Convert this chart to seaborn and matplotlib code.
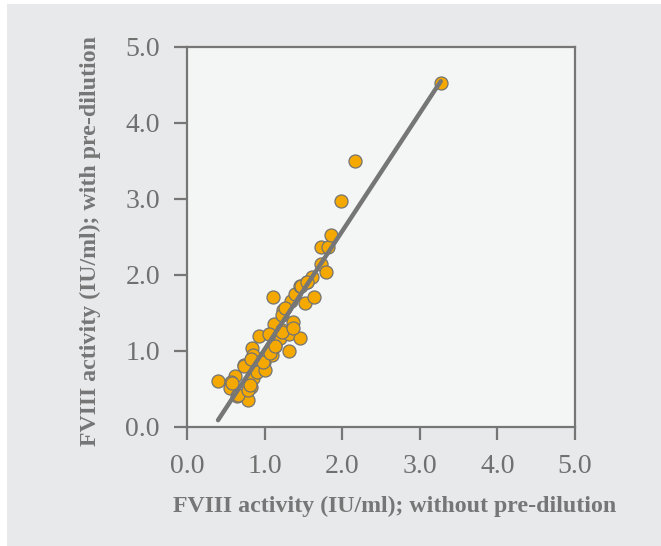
import matplotlib
matplotlib.use("Agg")
import matplotlib.pyplot as plt
import seaborn as sns
import pandas as pd
from matplotlib.patches import Rectangle

# Data (IU/ml)
without_pre = [0.40, 0.62, 0.57, 0.55, 0.65, 0.74, 0.78, 0.82, 0.84, 0.93,
               0.99, 0.99, 0.88, 0.85, 0.85, 1.09, 1.07, 1.12, 1.14, 1.11,
               1.20, 1.23, 1.24, 1.22, 1.31, 1.31, 1.36, 1.34, 1.39, 1.46,
               1.45, 1.52, 1.55, 1.61, 1.64, 1.73, 1.79, 1.73, 1.82, 1.86,
               1.99, 2.17, 3.27, 0.58, 0.66, 0.79, 0.81, 0.73, 0.83, 0.90,
               1.00, 0.98, 1.07, 1.13, 1.06, 1.22, 1.26, 1.36, 1.47, 1.54]
with_pre = [0.60, 0.67, 0.59, 0.51, 0.41, 0.82, 0.35, 0.53, 1.04, 1.20,
            0.85, 0.76, 0.72, 0.65, 0.95, 0.95, 1.22, 1.36, 1.06, 1.71,
            1.17, 1.27, 1.54, 1.47, 1.00, 1.22, 1.38, 1.66, 1.75, 1.17,
            1.85, 1.63, 1.91, 1.97, 1.71, 2.14, 2.04, 2.37, 2.37, 2.52,
            2.98, 3.50, 4.53, 0.58, 0.42, 0.49, 0.55, 0.80, 0.90, 0.73,
            0.75, 0.86, 0.97, 1.07, 1.23, 1.25, 1.56, 1.30, 1.86, 1.91]

x_ticks = [0, 1, 2, 3, 4, 5]
tick_labels = ["0.0", "1.0", "2.0", "3.0", "4.0", "5.0"]

df = pd.DataFrame({"without": without_pre, "with": with_pre})

sns.set_style("white")
plt.rcParams["font.family"] = ["Liberation Serif", "DejaVu Serif"]

fig = plt.figure(figsize=(6.61, 5.46), dpi=100)
fig.patch.set_facecolor("white")
fig.patches.append(Rectangle((7 / 661, 0), 1, 1 - 4 / 546, transform=fig.transFigure,
                             facecolor="#e8e9eb", edgecolor="none", zorder=-10))

ax = fig.add_axes([187 / 661, 119 / 546, 388 / 661, 380 / 546])
ax.set_facecolor("#f4f5f5")

sns.regplot(data=df, x="without", y="with", ax=ax, ci=None, truncate=True,
            scatter_kws=dict(s=88, color="#f5a900", edgecolor="#737373",
                             linewidths=0.9, alpha=1),
            line_kws=dict(color="#767676", lw=3.2))

ax.set_xlim(0, 5)
ax.set_ylim(0, 5)
ax.set_xticks(x_ticks)
ax.set_yticks(x_ticks)
ax.set_xticklabels(tick_labels)
ax.set_yticklabels(tick_labels)

grey = "#767676"
for sp in ax.spines.values():
    sp.set_color(grey)
    sp.set_linewidth(1.6)
    sp.set_visible(True)

ax.tick_params(axis="both", direction="out", length=9.5, width=1.6, color=grey,
               labelcolor="#707070", labelsize=20, pad=10)
ax.tick_params(axis="both", which="both", bottom=True, left=True)

ax.set_xlabel("FVIII activity (IU/ml); without pre-dilution", fontsize=17.2,
              fontweight="bold", color=grey)
ax.set_ylabel("FVIII activity (IU/ml); with pre-dilution", fontsize=17.2,
              fontweight="bold", color=grey)
ax.xaxis.set_label_coords(0.534, -0.21)
ax.yaxis.set_label_coords(-0.25, 0.489)
ax.xaxis.label.set_va("center")
ax.yaxis.label.set_va("center")

fig.savefig("out.png", dpi=100, facecolor=fig.get_facecolor())
